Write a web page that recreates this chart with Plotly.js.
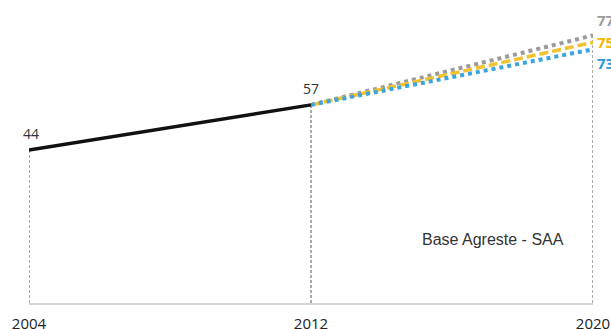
<!DOCTYPE html>
<html>
<head>
<meta charset="utf-8">
<script src="https://cdn.plot.ly/plotly-3.0.1.min.js"></script>
<style>
  html, body { margin: 0; padding: 0; background: #fff; }
  #chart { width: 611px; height: 329px; }
</style>
</head>
<body>
<div id="chart"></div>
<script>
// Years on the axis
const years = [2004, 2012, 2020];
const yearLabels = ['2004', '2012', '2020'];

// Observed values (2004 -> 2012)
const observedYears = [2004, 2012];
const observed = [44, 57];

// Projections from 2012 to 2020 (three scenarios)
const projYears = [2012, 2020];
const projHigh = [57, 77];
const projMid = [57, 75];
const projLow = [57, 73];

const sourceNote = 'Base Agreste - SAA';

const dropColor = '#555555';
const traces = [];

// Vertical dashed guides from the axis up to each labelled value
const guideTops = [observed[0], observed[1], projHigh[1]];
years.forEach((yr, i) => {
  traces.push({
    x: [yr, yr], y: [0, guideTops[i]], mode: 'lines',
    line: { color: dropColor, width: 1, dash: '3px,2px' },
    hoverinfo: 'skip', showlegend: false, cliponaxis: false
  });
});

traces.push({
  x: projYears, y: projHigh, mode: 'lines',
  line: { color: '#9b9b9b', width: 4, dash: '4px,4px' },
  showlegend: false, cliponaxis: false
});
traces.push({
  x: projYears, y: projMid, mode: 'lines',
  line: { color: '#f2c12e', width: 3.5, dash: '9px,4px' },
  showlegend: false, cliponaxis: false
});
traces.push({
  x: projYears, y: projLow, mode: 'lines',
  line: { color: '#3aa6dd', width: 4, dash: '4px,4px' },
  showlegend: false, cliponaxis: false
});
traces.push({
  x: observedYears, y: observed, mode: 'lines',
  line: { color: '#111111', width: 3.5 },
  showlegend: false, cliponaxis: false
});

const labelFont = { family: 'Open Sans, Noto Sans, sans-serif', size: 14, color: '#333' };
const endFont = (c) => ({ family: 'Open Sans, Noto Sans, sans-serif', size: 15, color: c });

const annotations = [
  { x: observedYears[0], y: observed[0], text: String(observed[0]), showarrow: false,
    xanchor: 'center', yanchor: 'middle', xshift: 2, yshift: 17, font: labelFont },
  { x: observedYears[1], y: observed[1], text: String(observed[1]), showarrow: false,
    xanchor: 'center', yanchor: 'middle', yshift: 16, font: labelFont },
  { x: projYears[1], y: projHigh[1], text: '<b>' + projHigh[1] + '</b>', showarrow: false,
    xanchor: 'left', yanchor: 'middle', xshift: 2, yshift: 15, font: endFont('#9b9b9b') },
  { x: projYears[1], y: projMid[1], text: '<b>' + projMid[1] + '</b>', showarrow: false,
    xanchor: 'left', yanchor: 'middle', xshift: 2, yshift: 0, font: endFont('#f0b800') },
  { x: projYears[1], y: projLow[1], text: '<b>' + projLow[1] + '</b>', showarrow: false,
    xanchor: 'left', yanchor: 'middle', xshift: 2, yshift: -14, font: endFont('#2a9ad6') },
  { xref: 'paper', yref: 'paper', x: 0.694, y: 0.218, text: sourceNote, showarrow: false,
    xanchor: 'left', yanchor: 'middle',
    font: { family: 'Liberation Sans, Arial, sans-serif', size: 16, color: '#333' } }
];

const layout = {
  width: 611, height: 329,
  margin: { l: 29, r: 18, t: 10, b: 26 },
  paper_bgcolor: '#ffffff', plot_bgcolor: '#ffffff',
  showlegend: false,
  xaxis: {
    range: [2004, 2020], tickvals: years, ticktext: yearLabels,
    showgrid: false, zeroline: false, showline: true,
    linecolor: '#d4d4d4', linewidth: 2, ticks: '', automargin: false,
    ticklabelstandoff: 6,
    tickfont: { family: 'Open Sans, Noto Sans, sans-serif', size: 15, color: '#222' },
    fixedrange: true
  },
  yaxis: {
    range: [0, 84.3], visible: false, showgrid: false, zeroline: false,
    automargin: false, fixedrange: true
  },
  annotations: annotations
};

Plotly.newPlot('chart', traces, layout, { displayModeBar: false, staticPlot: true });
</script>
</body>
</html>
